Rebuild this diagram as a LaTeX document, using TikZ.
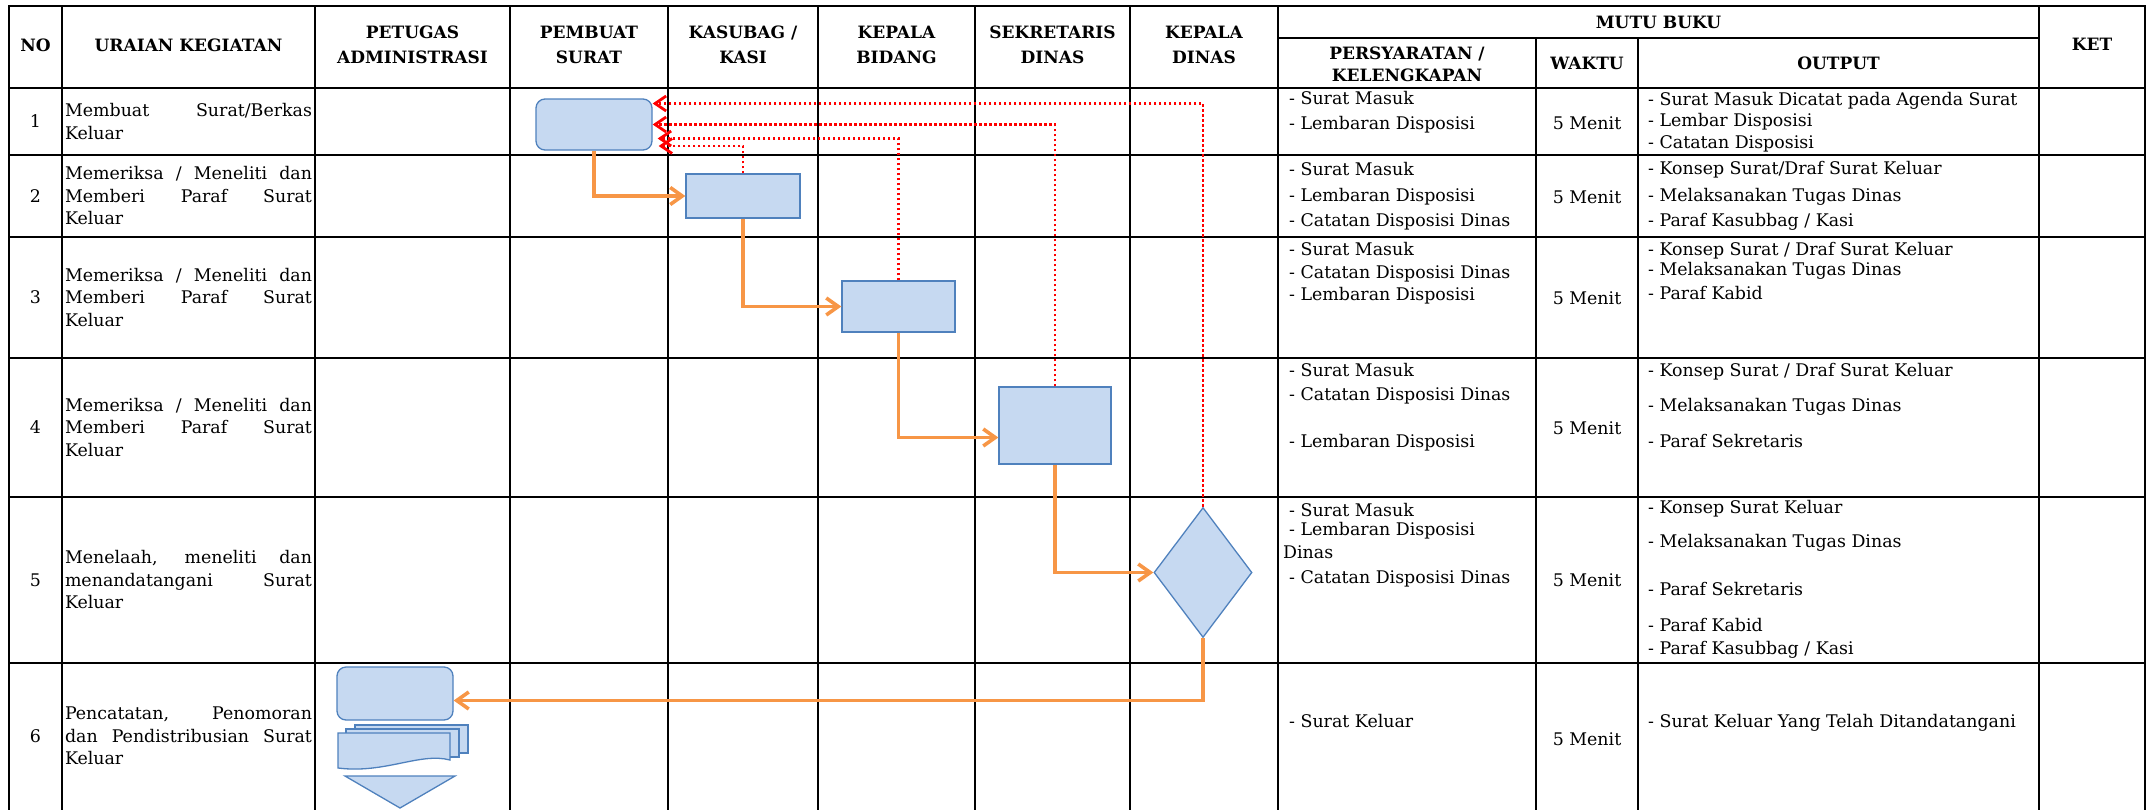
\documentclass[tikz,border=0pt]{standalone}
\usepackage{fontspec}
\setmainfont{DejaVu Serif}
\usetikzlibrary{arrows.meta, shapes.geometric}

\definecolor{boxfill}{HTML}{C6D9F1}
\definecolor{boxline}{HTML}{4F81BD}
\definecolor{flowline}{HTML}{F79646}

\begin{document}
\begin{tikzpicture}[x=1pt, y=-1pt,
    rule/.style={line width=2.7pt, line cap=rect},
    head/.style={font=\fontsize{17}{25}\selectfont\bfseries, align=center, inner sep=0pt},
    body/.style={font=\fontsize{17.4}{22.5}\selectfont, inner sep=0pt},
    item/.style={body, anchor=west, text height=12.5pt, text depth=4pt},
    task/.style={body, text width=247pt, align=justify,
      execute at begin node={\hyphenpenalty=10000 \tolerance=10000 }},
    proc/.style={draw=boxline, fill=boxfill, line width=1.3pt, inner sep=0pt},
    flow/.style={draw=flowline, line width=3.6pt, -{Straight Barb[length=12pt, width=17pt]}},
    back/.style={draw=red, line width=2.8pt, dash pattern=on 2.8pt off 2.2pt,
      -{Straight Barb[length=11pt, width=15pt]}}]

  \useasboundingbox (0, 0) rectangle (2151, 809);

  \foreach \x in {9, 62, 315, 510, 668, 818, 975, 1130, 1278, 2039, 2145}
    \draw[rule] (\x, 6) -- (\x, 815);
  \foreach \x in {1536, 1638}
    \draw[rule] (\x, 38) -- (\x, 815);
  \foreach \y in {6, 88, 155, 237, 358, 497, 663}
    \draw[rule] (9, \y) -- (2145, \y);
  \draw[rule] (1278, 38) -- (2039, 38);

  \node[head] (hno) at (35.5, 45) {NO};
  \node[head] (htask) at (188.5, 45) {URAIAN KEGIATAN};
  \node[head] (hadm) at (412.5, 45) {PETUGAS\\ADMINISTRASI};
  \node[head] (hmaker) at (589, 45) {PEMBUAT\\SURAT};
  \node[head] (hkasi) at (743, 45) {KASUBAG /\\KASI};
  \node[head] (hkabid) at (896.5, 45) {KEPALA\\BIDANG};
  \node[head] (hsekre) at (1052.5, 45) {SEKRETARIS\\DINAS};
  \node[head] (hkadis) at (1204, 45) {KEPALA\\DINAS};
  \node[head] (hmutu) at (1658.5, 22) {MUTU BUKU};
  \node[head] (hreq) at (1407, 64) {PERSYARATAN /\\[-3pt]KELENGKAPAN};
  \node[head] (htime) at (1587, 63) {WAKTU};
  \node[head] (hout) at (1838.5, 63) {OUTPUT};
  \node[head] (hket) at (2092, 44) {KET};

  \foreach \y [count=\i] in {121.5, 196, 297.5, 427.5, 580, 736}
    \node[body] (no\i) at (35.5, \y) {\i};

  \foreach \y/\lbl [count=\i] in {
      121.5/{Membuat Surat/Berkas\linebreak Keluar},
      196/{Memeriksa / Meneliti dan\linebreak Memberi Paraf Surat\linebreak Keluar},
      297.5/{Memeriksa / Meneliti dan\linebreak Memberi Paraf Surat\linebreak Keluar},
      427.5/{Memeriksa / Meneliti dan\linebreak Memberi Paraf Surat\linebreak Keluar},
      580/{Menelaah, meneliti dan\linebreak menandatangani Surat\linebreak Keluar},
      736/{Pencatatan, Penomoran\linebreak dan Pendistribusian Surat\linebreak Keluar}}
    \node[task] (task\i) at (188.5, \y) {\lbl};

  \foreach \x/\y/\lbl [count=\i] in {
      1289/100/{- Surat Masuk}, 1289/125/{- Lembaran Disposisi},
      1289/171/{- Surat Masuk}, 1289/197/{- Lembaran Disposisi},
      1289/222/{- Catatan Disposisi Dinas},
      1289/251/{- Surat Masuk}, 1289/274/{- Catatan Disposisi Dinas},
      1289/296/{- Lembaran Disposisi},
      1289/372/{- Surat Masuk}, 1289/396/{- Catatan Disposisi Dinas},
      1289/443/{- Lembaran Disposisi},
      1289/512/{- Surat Masuk}, 1289/531/{- Lembaran Disposisi},
      1283/554/{Dinas}, 1289/579/{- Catatan Disposisi Dinas},
      1289/723/{- Surat Keluar}}
    \node[item] (req\i) at (\x, \y) {\lbl};

  \foreach \y [count=\i] in {123, 197, 298, 428, 580, 739}
    \node[body] (time\i) at (1587, \y) {5 Menit};

  \foreach \y/\lbl [count=\i] in {
      101/{- Surat Masuk Dicatat pada Agenda Surat}, 122/{- Lembar Disposisi},
      144/{- Catatan Disposisi},
      170/{- Konsep Surat/Draf Surat Keluar}, 197/{- Melaksanakan Tugas Dinas},
      222/{- Paraf Kasubbag / Kasi},
      251/{- Konsep Surat / Draf Surat Keluar}, 271/{- Melaksanakan Tugas Dinas},
      295/{- Paraf Kabid},
      372/{- Konsep Surat / Draf Surat Keluar}, 407/{- Melaksanakan Tugas Dinas},
      443/{- Paraf Sekretaris},
      509/{- Konsep Surat Keluar}, 543/{- Melaksanakan Tugas Dinas},
      591/{- Paraf Sekretaris}, 627/{- Paraf Kabid}, 650/{- Paraf Kasubbag / Kasi},
      723/{- Surat Keluar Yang Telah Ditandatangani}}
    \node[item] (out\i) at (1648, \y) {\lbl};

  \node[proc, rounded corners=9pt, minimum width=116pt, minimum height=51pt] (start) at (594, 124.5) {};
  \node[proc, minimum width=114pt, minimum height=44pt] (kasi) at (743, 196) {};
  \node[proc, minimum width=113pt, minimum height=51pt] (kabid) at (898.5, 306.5) {};
  \node[proc, minimum width=112pt, minimum height=77pt] (sekre) at (1055, 425.5) {};
  \node[proc, diamond, minimum width=98pt, minimum height=130pt] (kadis) at (1203, 572.5) {};
  \node[proc, rounded corners=9pt, minimum width=116pt, minimum height=53pt] (arsip) at (395, 693.5) {};

  \draw[proc] (355, 725) rectangle (468, 753);
  \draw[proc] (346, 729) rectangle (459, 757);
  \draw[proc] (338, 733) -- (450, 733) -- (450, 760)
    .. controls (420, 752) and (385, 774) .. (338, 768) -- cycle;
  \draw[proc] (345, 776) -- (455, 776) -- (400, 808) -- cycle;

  \draw[flow] (start.south) |- (kasi.west);
  \draw[flow] (kasi.south) |- (kabid.west);
  \draw[flow] (kabid.south) |- ([yshift=-12pt]sekre.west);
  \draw[flow] (sekre.south) |- (kadis.west);
  \draw[flow] (kadis.south) |- ([yshift=-7pt]arsip.east);

  \draw[back] (kasi.north) |- ([xshift=6pt, yshift=-21.5pt]start.east);
  \draw[back] (kabid.north) |- ([xshift=5pt, yshift=-14pt]start.east);
  \draw[back] (sekre.north) |- (start.east);
  \draw[back] (kadis.north) |- ([yshift=21pt]start.east);
\end{tikzpicture}
\end{document}
